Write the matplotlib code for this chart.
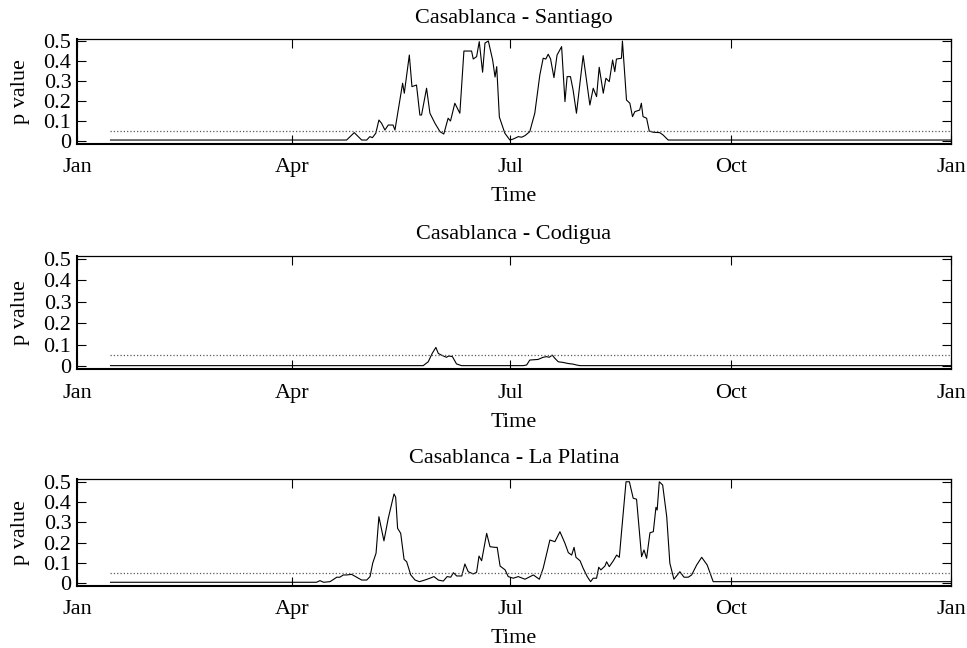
import matplotlib
matplotlib.use("Agg")
import matplotlib.pyplot as plt

plt.rcParams['font.family'] = ['Liberation Serif', 'DejaVu Serif']
plt.rcParams['font.size'] = 16

# x axis: day of year, labelled by quarter
month_ticks = [0, 90, 181, 273, 365]
month_labels = ["Jan", "Apr", "Jul", "Oct", "Jan"]
y_ticks = [0, 0.1, 0.2, 0.3, 0.4, 0.5]
y_tick_labels = ["0", "0.1", "0.2", "0.3", "0.4", "0.5"]
sig_level = 0.05

titles = ["Casablanca - Santiago", "Casablanca - Codigua", "Casablanca - La Platina"]

# Casablanca - Santiago
days_santiago = [14, 112.6, 115.8, 118.9, 121, 122.3, 123.4, 124.8, 126.1, 127.2,
                 128.6, 130, 132, 132.8, 136, 136.7, 138.8, 139.9, 141.8, 143.2,
                 143.9, 146, 147.4, 149.5, 151.6, 153.2, 155, 156, 157.8, 159.9,
                 161.6, 164.8, 165.5, 166.9, 168, 169.4, 170.4, 171.8, 173.6, 174.6,
                 175.3, 176.4, 178.7, 180.8, 182.2, 184.3, 185.7, 187.1, 189.1, 191.2,
                 193.3, 194.7, 195.8, 196.8, 197.8, 199.2, 200.5, 202.4, 203.8, 204.7,
                 206.1, 207.2, 208.6, 211.4, 214.2, 215.6, 217, 218.1, 219.8, 220.9,
                 222.3, 223.7, 224.6, 225.3, 227.4, 227.8, 229.5, 230.9, 232, 233,
                 235, 235.7, 236.4, 237.9, 239, 240.6, 243.4, 244.8, 246.9, 365]
pval_santiago = [0.005, 0.005, 0.042, 0.005, 0.005, 0.022, 0.017, 0.039, 0.105, 0.089,
                 0.055, 0.08, 0.08, 0.055, 0.289, 0.239, 0.43, 0.272, 0.28, 0.13,
                 0.13, 0.264, 0.139, 0.089, 0.047, 0.035, 0.114, 0.1, 0.189, 0.139,
                 0.45, 0.45, 0.41, 0.422, 0.497, 0.344, 0.49, 0.5, 0.405, 0.32,
                 0.372, 0.12, 0.039, 0.005, 0.01, 0.022, 0.019, 0.027, 0.047, 0.139,
                 0.33, 0.414, 0.41, 0.434, 0.41, 0.317, 0.43, 0.472, 0.197, 0.322,
                 0.322, 0.255, 0.139, 0.427, 0.18, 0.264, 0.222, 0.369, 0.239, 0.314,
                 0.297, 0.405, 0.347, 0.41, 0.414, 0.5, 0.205, 0.189, 0.122, 0.147,
                 0.155, 0.189, 0.122, 0.114, 0.05, 0.044, 0.042, 0.03, 0.005, 0.005]

# Casablanca - Codigua
days_codigua = [14, 144.6, 146.7, 148.4, 149.9, 150.9, 152.2, 154.3, 155.3, 156.8,
                158.5, 160.6, 186.4, 187.8, 189.1, 192.6, 194.7, 196.1, 197.2, 198.5,
                199.6, 201, 203, 205.1, 207.2, 208.6, 210, 365]
pval_codigua = [0.002, 0.002, 0.02, 0.06, 0.087, 0.059, 0.051, 0.041, 0.047, 0.044,
                0.01, 0.002, 0.002, 0.005, 0.028, 0.031, 0.041, 0.044, 0.041, 0.051,
                0.036, 0.02, 0.017, 0.012, 0.009, 0.005, 0.002, 0.002]

# Casablanca - La Platina
days_platina = [14, 100, 101.5, 103, 105.7, 108.5, 109.8, 111.2, 112.6, 114.7,
                116.8, 118.9, 121, 122.4, 123.5, 124.9, 126.1, 128.2, 130, 132.4,
                133.1, 133.9, 135.2, 136.6, 137.7, 139.4, 141.2, 143, 145.3, 147.4,
                149.1, 150.9, 153, 154.6, 156.1, 157.2, 158.6, 160.7, 162, 163.4,
                165.5, 166.9, 167.9, 169, 171.1, 172.5, 174.6, 175.5, 176.7, 178.8,
                180.1, 182.2, 184.3, 187.1, 190.6, 193.1, 194.7, 196.2, 197.5, 199.6,
                201.7, 203.8, 205.2, 206.6, 207.6, 208.4, 210.1, 211.4, 213.1, 214.5,
                215.6, 217, 217.9, 218.8, 220.5, 221.2, 222.3, 224, 225.4, 226.5,
                227.5, 229.3, 230.7, 232.3, 233.7, 235.8, 236.8, 237.9, 239.3, 240.7,
                241.8, 242.3, 243.2, 244.6, 246.3, 247.6, 249.3, 250.4, 251.8, 253.5,
                255.3, 256.7, 258.8, 260.9, 263.2, 265.7, 365]
pval_platina = [0.005, 0.005, 0.013, 0.005, 0.008, 0.03, 0.03, 0.041, 0.041, 0.044,
                0.03, 0.016, 0.016, 0.033, 0.099, 0.148, 0.328, 0.209, 0.32, 0.44,
                0.424, 0.271, 0.246, 0.118, 0.106, 0.041, 0.016, 0.008, 0.016, 0.025,
                0.033, 0.016, 0.011, 0.033, 0.03, 0.052, 0.036, 0.036, 0.095, 0.057,
                0.046, 0.054, 0.134, 0.111, 0.246, 0.18, 0.177, 0.177, 0.085, 0.066,
                0.033, 0.025, 0.033, 0.02, 0.041, 0.02, 0.074, 0.148, 0.213, 0.205,
                0.254, 0.197, 0.151, 0.139, 0.177, 0.128, 0.111, 0.074, 0.033, 0.008,
                0.025, 0.025, 0.079, 0.066, 0.085, 0.106, 0.082, 0.111, 0.139, 0.128,
                0.263, 0.5, 0.5, 0.419, 0.414, 0.131, 0.164, 0.123, 0.249, 0.254,
                0.374, 0.361, 0.5, 0.484, 0.328, 0.099, 0.02, 0.036, 0.057, 0.03,
                0.03, 0.041, 0.09, 0.128, 0.09, 0.008, 0.008]

series = [(days_santiago, pval_santiago),
          (days_codigua, pval_codigua),
          (days_platina, pval_platina)]

# axes rectangles (left, bottom, width, height) and y ranges per panel
rects = [[0.0796, 0.7782, 0.9038, 0.1611],
         [0.0796, 0.4298, 0.9038, 0.1756],
         [0.0796, 0.0961, 0.9038, 0.1642]]
ylims = [(-0.0135, 0.5085), (-0.016, 0.515), (-0.012, 0.512)]

fig = plt.figure(figsize=(9.67, 6.48), dpi=100)

for rect, ylim, title, (days, pvals) in zip(rects, ylims, titles, series):
    ax = fig.add_axes(rect)
    ax.plot(days, pvals, color='black', lw=0.8)
    ax.hlines(sig_level, days[0], days[-1], colors='0.35', linestyles=':', lw=0.9)

    ax.set_xlim(0, 365)
    ax.set_ylim(*ylim)
    ax.set_xticks(month_ticks, month_labels)
    ax.set_yticks(y_ticks, y_tick_labels)
    ax.tick_params(direction='in', top=True, right=True, length=6.5, width=0.8)
    ax.tick_params(axis='x', pad=10.5)
    ax.tick_params(axis='y', pad=4)

    ax.spines['left'].set_linewidth(1.5)
    ax.spines['bottom'].set_linewidth(1.5)
    ax.spines['top'].set_linewidth(0.9)
    ax.spines['right'].set_linewidth(0.9)

    ax.set_title(title, fontsize=16, pad=12)
    ax.set_xlabel("Time", labelpad=7)
    ax.set_ylabel("p value", labelpad=10)

fig.savefig("out.png", dpi=100)
